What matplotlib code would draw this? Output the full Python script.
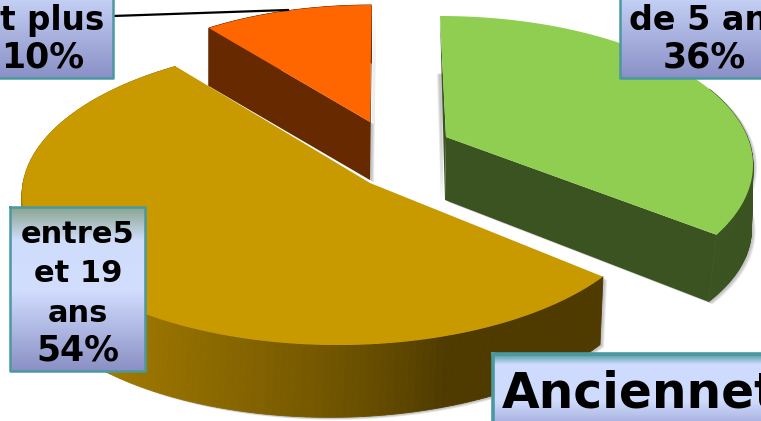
import numpy as np
import matplotlib
matplotlib.use('Agg')
import matplotlib.pyplot as plt
from matplotlib.colors import LinearSegmentedColormap

# shares of each slice, percent
names = ['green', 'gold', 'orange']
shares = [36, 54, 10]
label_green = ['de 5 ans']
label_gold = ['entre5', 'et 19', 'ans']
label_orange = ['et plus']
title = 'Ancienneté'

top_colors = {'green': '#8fce50', 'gold': '#c99900', 'orange': '#ff6600'}
side_colors = {'green': '#3b5320', 'gold': '#4f3a00', 'orange': '#672900'}

# ellipse of each exploded slice, in picture pixels:
# centre, a, b, tilt, start angle, perspective squeeze, apex, wall offset
geom = {
    'green': ((440, 165), 313, 149, 0, -90, 0.91, (446, 137), (-8, 67)),
    'gold': ((338, 195), 316, 150, 0, 33, 1.06, (370, 183), (-3, 74)),
    'orange': ((372, 125), 277, 120, 0, 233.9, 1.0, (370, 122), (0, 58)),
}


def arc(name, share):
    c, a, b, tilt, t0, squeeze, apex, off = geom[name]
    t = np.radians(np.linspace(t0, t0 + share * 3.6 * squeeze, 160))
    p = np.radians(tilt)
    x = c[0] + a * np.cos(t) * np.cos(p) + b * np.sin(t) * np.sin(p)
    y = c[1] - a * np.cos(t) * np.sin(p) + b * np.sin(t) * np.cos(p)
    return x, y


def shadow(fx, fy, sx=1):
    for s in [4, 3, 2]:
        ax.fill(np.array(fx) + sx * s, np.array(fy) + s * 0.6, color='#808080',
                alpha=0.18, lw=0, zorder=z[name])


def draw_slice(name, share):
    x, y = arc(name, share)
    apex = geom[name][6]
    off = geom[name][7]
    frac = np.linspace(0, 1, len(x))
    low_x = x + off[0]
    low_y = y + off[1]
    if name == 'green':
        # wall leaves the top surface at its right-hand extreme
        low_x = x + off[0] * frac ** 6
    if name == 'gold':
        # wall gets shorter towards the front right corner
        low_y = y + off[1] - 6 * (1 - frac) ** 4
    k = len(x) // 2 if name == 'green' else 0
    wall_x = np.r_[x[k:], low_x[k:][::-1]]
    wall_y = np.r_[y[k:], low_y[k:][::-1]]
    faces = []
    if name == 'green':
        faces.append(([apex[0], x[-1], low_x[-1], apex[0] - 1],
                      [apex[1], y[-1], low_y[-1], apex[1] + off[1] - 4]))
        # thin sliver of the hidden cut face, with its shadow to the left
        shadow([x[0] + 1, x[0] + 6, apex[0] - 1], [y[0] + 56, y[0] + 56, apex[1] + off[1] - 4], sx=-1)
        ax.fill([apex[0], x[0], apex[0] - 1], [apex[1], y[0], apex[1] + off[1] - 4],
                color=side_colors[name], lw=0, zorder=z[name])
    if name == 'orange':
        faces.append(([apex[0], x[-1], low_x[-1], apex[0] + off[0]],
                      [apex[1], y[-1], low_y[-1], apex[1] + off[1]]))
        faces.append(([apex[0], x[0], low_x[0], apex[0] + off[0]],
                      [apex[1], y[0], low_y[0], apex[1] + off[1]]))
    for fx, fy in faces:
        shadow(fx, fy)
    if name != 'orange':
        shadow(wall_x, wall_y)
    for fx, fy in faces:
        ax.fill(fx, fy, color=side_colors[name], lw=0, zorder=z[name])
    for i in range(k, len(x) - 1):
        col = gold_wall((x[i] - 100) / 350) if name == 'gold' else side_colors[name]
        ax.fill([x[i], x[i + 1], low_x[i + 1], low_x[i]],
                [y[i], y[i + 1], low_y[i + 1], low_y[i]],
                color=col, lw=0.6, zorder=z[name])
    ax.fill(np.r_[apex[0], x], np.r_[apex[1], y], color=top_colors[name], lw=0, zorder=z[name])


def box(x0, x1, y0, y1, stops, lw=1.8):
    cmap = LinearSegmentedColormap.from_list('box', stops)
    grad = np.linspace(0, 1, 256).reshape(-1, 1)
    ax.imshow(grad, cmap=cmap, extent=(x0, x1, y1, y0), aspect='auto', zorder=10)
    ax.plot([x0, x1, x1, x0, x0], [y0, y0, y1, y1, y0], color='#4a98a2', lw=lw, zorder=11)


fig = plt.figure(figsize=(7.61, 4.21), dpi=100)
ax = fig.add_axes([0, 0, 1, 1])
z = {'green': 2, 'orange': 3, 'gold': 4}
gold_wall = LinearSegmentedColormap.from_list(
    'wall', [(0, '#a67c00'), (0.14, '#9a7400'), (0.57, '#7a5c00'), (0.857, '#604800'), (1, '#4f3a00')])

for name, share in zip(names, shares):
    draw_slice(name, share)

ax.plot([113, 288], [16, 10], color='black', lw=1.6, zorder=5)

soft = [(0, '#d2deff'), (0.35, '#ccd8fb'), (1, '#8a90c6')]
box(-20, 113, -60, 78, soft)
box(620, 800, -60, 78, soft)
box(10, 145, 207, 371, [(0, '#8aa58f'), (0.2, '#cfdcfa'), (0.5, '#d3deff'), (1, '#8a90c4')])
box(493, 800, 354, 440, [(0, '#4e9aa0'), (0.12, '#d0dcff'), (0.55, '#cfdbfd'), (1, '#8a90c6')], lw=2.6)

font = dict(family='DejaVu Sans', fontweight='bold', color='black', zorder=12,
            ha='center', va='baseline')
ax.text(41, 30, label_orange[0], fontsize=23.5, **font)
ax.text(43, 68, f'{shares[2]}%', fontsize=25, **font)
ax.text(709, 30, label_green[0], fontsize=24, **font)
ax.text(704, 68, f'{shares[0]}%', fontsize=25, **font)
for i, line in enumerate(label_gold):
    ax.text(78, 243 + i * 39.3, line, fontsize=22, **font)
ax.text(78, 243 + 3 * 39.3, f'{shares[1]}%', fontsize=25, **font)
ax.text(502, 407, title, family='DejaVu Sans', fontweight='bold', color='black',
        fontsize=35, ha='left', va='baseline', zorder=12)

ax.set_xlim(0, 761)
ax.set_ylim(421, 0)
ax.axis('off')
fig.savefig('out.png', dpi=100, facecolor='white')
